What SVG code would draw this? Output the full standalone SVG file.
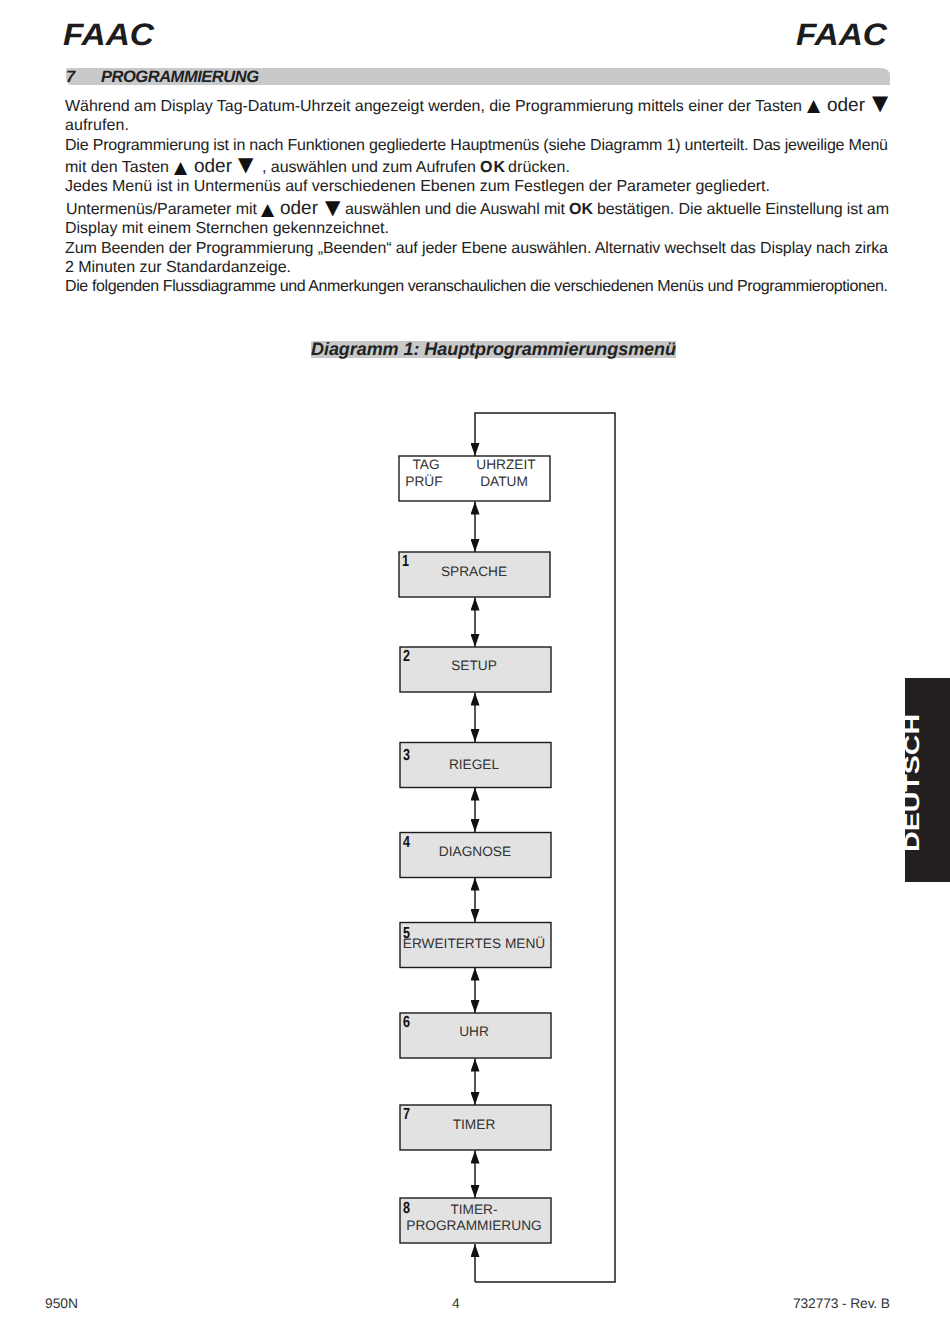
<svg xmlns="http://www.w3.org/2000/svg" width="950" height="1344" viewBox="0 0 950 1344">
<style>
text{font-family:"Liberation Sans",Arial,sans-serif;fill:#222;text-rendering:geometricPrecision}
.b{font-size:16px}
.o{font-size:19px}
.s{font-family:"DejaVu Sans",sans-serif;fill:#111}
.bd{font-weight:bold}
.n{font-size:13.7px;fill:#333;text-anchor:middle}
.k{font-size:16px;font-weight:bold;fill:#111}
.box{fill:#e2e2e2;stroke:#1c1c1c;stroke-width:1.4}
.wbox{fill:#fff;stroke:#1c1c1c;stroke-width:1.4}
.c{fill:none;stroke:#1c1c1c;stroke-width:1.5}
.logo{font-size:31px;font-weight:bold;font-style:italic;fill:#1c1c1c}
.f{font-size:13.8px;fill:#333}
</style>
<defs>
<marker id="a" viewBox="0 0 13 9" refX="13" refY="4.5" markerUnits="userSpaceOnUse" markerWidth="13" markerHeight="9" orient="auto"><path d="M0 0L13 4.5L0 9Z" fill="#111"/></marker>
</defs>
<rect width="950" height="1344" fill="#fff"/>
<g id="header">
<text class="logo" x="63" y="45" textLength="91" lengthAdjust="spacingAndGlyphs">FAAC</text>
<text class="logo" x="796" y="45" textLength="91" lengthAdjust="spacingAndGlyphs">FAAC</text>
<path d="M68 68H880Q890 68 890 76V85H72Q66 85 66 78V70Q66 68 68 68Z" fill="#c8c9ca"/>
<text x="66" y="82" font-size="16.5" font-weight="bold" font-style="italic">7</text>
<text x="101" y="82" font-size="16.5" font-weight="bold" font-style="italic" textLength="158">PROGRAMMIERUNG</text>
</g>
<g id="intro">
<text class="b" x="65" y="110.7" textLength="737">Während am Display Tag-Datum-Uhrzeit angezeigt werden, die Programmierung mittels einer der Tasten</text>
<text class="s" x="807" y="111" font-size="17">▲</text>
<text class="o" x="827" y="110.7" textLength="38">oder</text>
<text class="s" x="872" y="110" font-size="21">▼</text>
<text class="b" x="65" y="129.7" textLength="64">aufrufen.</text>
<text class="b" x="65" y="150" textLength="823">Die Programmierung ist in nach Funktionen gegliederte Hauptmenüs (siehe Diagramm 1) unterteilt. Das jeweilige Menü</text>
<text class="b" x="65" y="172" textLength="104">mit den Tasten</text>
<text class="s" x="174" y="173" font-size="17">▲</text>
<text class="o" x="194" y="172" textLength="38">oder</text>
<text class="s" x="238" y="171" font-size="20">▼</text>
<text class="b" x="262" y="172" textLength="214">, auswählen und zum Aufrufen</text>
<text class="b bd" x="480" y="172" textLength="25">OK</text>
<text class="b" x="508" y="172" textLength="62">drücken.</text>
<text class="b" x="65" y="191" textLength="705">Jedes Menü ist in Untermenüs auf verschiedenen Ebenen zum Festlegen der Parameter gegliedert.</text>
<text class="b" x="66" y="214" textLength="191">Untermenüs/Parameter mit</text>
<text class="s" x="261" y="215" font-size="17">▲</text>
<text class="o" x="280" y="214" textLength="38">oder</text>
<text class="s" x="325" y="214" font-size="20">▼</text>
<text class="b" x="345" y="214" textLength="220">auswählen und die Auswahl mit</text>
<text class="b bd" x="569" y="214" textLength="24">OK</text>
<text class="b" x="597" y="214" textLength="292">bestätigen. Die aktuelle Einstellung ist am</text>
<text class="b" x="65" y="233" textLength="324">Display mit einem Sternchen gekennzeichnet.</text>
<text class="b" x="65" y="252.7" textLength="823">Zum Beenden der Programmierung „Beenden“ auf jeder Ebene auswählen. Alternativ wechselt das Display nach zirka</text>
<text class="b" x="65" y="272" textLength="226">2 Minuten zur Standardanzeige.</text>
<text class="b" x="65" y="291" textLength="823">Die folgenden Flussdiagramme und Anmerkungen veranschaulichen die verschiedenen Menüs und Programmieroptionen.</text>
</g>
<g id="title">
<rect x="311" y="341" width="365" height="17" fill="#c8c8c8"/>
<text x="311" y="355" font-size="18" font-weight="bold" font-style="italic" textLength="365">Diagramm 1: Hauptprogrammierungsmenü</text>
</g>
<g id="connectors">
<path class="c" d="M475 1282H615V413H475V456" marker-end="url(#a)"/>
<path class="c" d="M475 1282V1244" marker-end="url(#a)"/>
<path class="c" d="M475 525V501.5" marker-end="url(#a)"/><path class="c" d="M475 525V552" marker-end="url(#a)"/>
<path class="c" d="M475 622V597.5" marker-end="url(#a)"/><path class="c" d="M475 622V647" marker-end="url(#a)"/>
<path class="c" d="M475 717V692.5" marker-end="url(#a)"/><path class="c" d="M475 717V742" marker-end="url(#a)"/>
<path class="c" d="M475 810V787.5" marker-end="url(#a)"/><path class="c" d="M475 810V832" marker-end="url(#a)"/>
<path class="c" d="M475 900V877.5" marker-end="url(#a)"/><path class="c" d="M475 900V922" marker-end="url(#a)"/>
<path class="c" d="M475 990V967.5" marker-end="url(#a)"/><path class="c" d="M475 990V1013" marker-end="url(#a)"/>
<path class="c" d="M475 1082V1058.5" marker-end="url(#a)"/><path class="c" d="M475 1082V1105" marker-end="url(#a)"/>
<path class="c" d="M475 1174V1150.5" marker-end="url(#a)"/><path class="c" d="M475 1174V1198" marker-end="url(#a)"/>
</g>
<g id="node-display">
<rect class="wbox" x="399" y="456" width="151" height="45"/>
<text class="n" x="426" y="469">TAG</text>
<text class="n" x="424" y="485.5">PRÜF</text>
<text class="n" x="506" y="469">UHRZEIT</text>
<text class="n" x="504" y="485.5">DATUM</text>
</g>
<g id="node-1"><rect class="box" x="399" y="552" width="151" height="45"/><text class="k" x="402" y="566" textLength="7" lengthAdjust="spacingAndGlyphs">1</text><text class="n" x="474" y="575.5">SPRACHE</text></g>
<g id="node-2"><rect class="box" x="400" y="647" width="151" height="45"/><text class="k" x="403" y="661" textLength="7" lengthAdjust="spacingAndGlyphs">2</text><text class="n" x="474" y="669.5">SETUP</text></g>
<g id="node-3"><rect class="box" x="400" y="742.5" width="151" height="45"/><text class="k" x="403" y="760" textLength="7" lengthAdjust="spacingAndGlyphs">3</text><text class="n" x="474" y="768.5">RIEGEL</text></g>
<g id="node-4"><rect class="box" x="400" y="832.5" width="151" height="45"/><text class="k" x="403" y="847" textLength="7" lengthAdjust="spacingAndGlyphs">4</text><text class="n" x="475" y="855.5">DIAGNOSE</text></g>
<g id="node-5"><rect class="box" x="400" y="922.5" width="151" height="45"/><text class="k" x="403" y="938" textLength="7" lengthAdjust="spacingAndGlyphs">5</text><text class="n" x="474" y="948">ERWEITERTES MENÜ</text></g>
<g id="node-6"><rect class="box" x="400" y="1013" width="151" height="45"/><text class="k" x="403" y="1027" textLength="7" lengthAdjust="spacingAndGlyphs">6</text><text class="n" x="474" y="1036">UHR</text></g>
<g id="node-7"><rect class="box" x="400" y="1105" width="151" height="45"/><text class="k" x="403" y="1119" textLength="7" lengthAdjust="spacingAndGlyphs">7</text><text class="n" x="474" y="1129">TIMER</text></g>
<g id="node-8"><rect class="box" x="400" y="1198" width="151" height="45"/><text class="k" x="403" y="1213" textLength="7" lengthAdjust="spacingAndGlyphs">8</text><text class="n" x="474" y="1213.5">TIMER-</text><text class="n" x="474" y="1230">PROGRAMMIERUNG</text></g>
<g id="footer">
<text class="f" x="45" y="1308">950N</text>
<text class="f" x="452" y="1308">4</text>
<text class="f" x="890" y="1308" text-anchor="end" textLength="97">732773 - Rev. B</text>
</g>
<g id="side-tab">
<rect x="905" y="678" width="45" height="204" fill="#231f20"/>
<text transform="translate(919 852) rotate(-90) scale(1.36 1)" font-size="21" font-weight="bold" style="fill:#fff">DEUTSCH</text>
</g>
</svg>
